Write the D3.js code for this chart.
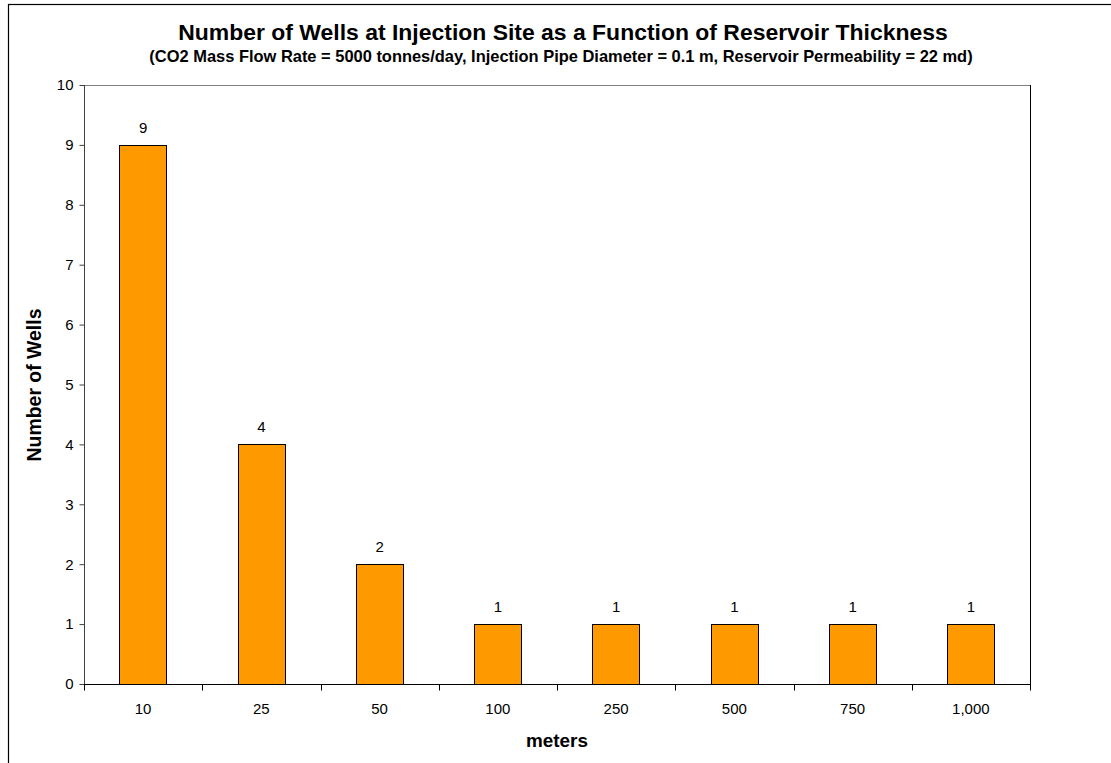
<!DOCTYPE html>
<html><head><meta charset="utf-8">
<script src="https://cdn.jsdelivr.net/npm/d3@7"></script>
<style>body{margin:0;background:#fff}svg{display:block;font-family:"Liberation Sans",Arial,sans-serif}</style>
</head><body>
<svg id="c" width="1111" height="763"></svg>
<script>
const categories = ["10","25","50","100","250","500","750","1,000"];
const wells = [9,4,2,1,1,1,1,1];
const yTicks = [0,1,2,3,4,5,6,7,8,9,10];

const svg = d3.select("#c");
const m = {l:84, t:85, r:1030, b:684};
// outer frame
svg.append("rect").attr("x",8.5).attr("y",4.5).attr("width",1200).attr("height",800)
  .attr("fill","none").attr("stroke","#000").attr("stroke-width",1.2);

const x = d3.scaleBand().domain(categories).range([m.l,m.r]).paddingInner(0.6).paddingOuter(0.3);
const xb = d3.scaleBand().domain(categories).range([m.l,m.r]);
const y = d3.scaleLinear().domain([0,10]).range([m.b,m.t]);

// plot frame
svg.append("line").attr("x1",m.l).attr("x2",m.r).attr("y1",m.t+0.5).attr("y2",m.t+0.5).attr("stroke","#808080");
svg.append("line").attr("x1",m.r+0.5).attr("x2",m.r+0.5).attr("y1",m.t).attr("y2",m.b).attr("stroke","#000");

// bars
svg.append("g").selectAll("rect").data(wells).join("rect")
  .attr("x",(d,i)=>Math.round(x(categories[i]))+0.5)
  .attr("y",d=>Math.round(y(d))+0.5)
  .attr("width",Math.round(x.bandwidth()))
  .attr("height",d=>Math.round(y(0))-Math.round(y(d)))
  .attr("fill","#FF9900").attr("stroke","#000").attr("stroke-width",1);

// value labels
svg.append("g").selectAll("text").data(wells).join("text")
  .attr("x",(d,i)=>x(categories[i])+x.bandwidth()/2)
  .attr("y",d=>y(d)-12)
  .attr("text-anchor","middle").attr("font-size",15).attr("fill","#000")
  .text(d=>d);

// y axis
const ya = svg.append("g").attr("transform",`translate(${m.l+0.5},0)`)
  .call(d3.axisLeft(y).tickValues(yTicks).tickSize(5).tickPadding(6).tickFormat(d3.format("d")));
ya.select(".domain").attr("stroke","#404040").attr("d",`M0,${m.t}V${m.b}`);
ya.selectAll(".tick line").attr("stroke","#404040");
ya.selectAll("text").attr("font-size",15).attr("fill","#000").attr("font-family","Liberation Sans, Arial, sans-serif");

// x axis
const xa = svg.append("g").attr("transform",`translate(0,${m.b+0.5})`);
xa.append("line").attr("x1",m.l).attr("x2",m.r+1).attr("stroke","#000");
const bounds = categories.map(c=>xb(c)).concat([m.r]);
xa.selectAll("line.t").data(bounds).join("line").attr("class","t")
  .attr("x1",d=>Math.round(d)+0.5).attr("x2",d=>Math.round(d)+0.5).attr("y1",0).attr("y2",6).attr("stroke","#000");
xa.selectAll("text").data(categories).join("text")
  .attr("x",d=>xb(d)+xb.bandwidth()/2).attr("y",29)
  .attr("text-anchor","middle").attr("font-size",15).attr("fill","#000").text(d=>d);

function fit(sel, target){
  const w = sel.node().getComputedTextLength();
  const fs = +sel.attr("font-size");
  sel.attr("font-size", fs*target/w);
}
// titles
fit(svg.append("text").attr("x",563).attr("y",40).attr("text-anchor","middle")
  .attr("font-size",20).attr("font-weight","bold").text("Number of Wells at Injection Site as a Function of Reservoir Thickness"), 770);
fit(svg.append("text").attr("x",561).attr("y",62).attr("text-anchor","middle")
  .attr("font-size",13).attr("font-weight","bold").text("(CO2 Mass Flow Rate = 5000 tonnes/day, Injection Pipe Diameter = 0.1 m, Reservoir Permeability = 22 md)"), 824);
fit(svg.append("text").attr("x",557).attr("y",747).attr("text-anchor","middle")
  .attr("font-size",16).attr("font-weight","bold").text("meters"), 62);
fit(svg.append("text").attr("transform","translate(41,385) rotate(-90)").attr("text-anchor","middle")
  .attr("font-size",16).attr("font-weight","bold").text("Number of Wells"), 153);
</script>
</body></html>
